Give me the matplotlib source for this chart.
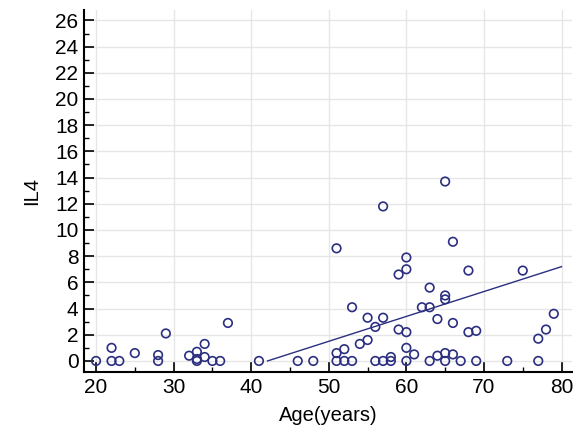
import numpy as np
import matplotlib
matplotlib.use("Agg")
import matplotlib.pyplot as plt
from matplotlib.ticker import MultipleLocator

plt.rcParams["font.family"] = ["Liberation Sans", "DejaVu Sans"]

# age (years) and IL4
age = [20, 22, 22, 23, 25, 28, 28, 29, 32, 33, 33, 33, 34, 34, 35, 36, 37,
       41, 46, 48, 51, 51, 51, 52, 52, 53, 53, 54, 55, 55, 56, 56, 57, 57, 57,
       58, 58, 59, 59, 60, 60, 60, 60, 60, 61, 62, 63, 63, 63, 64, 64,
       65, 65, 65, 65, 65, 66, 66, 66, 67, 68, 68, 69, 69, 73, 75, 77, 77, 78, 79]
il4 = [0, 1.0, 0, 0, 0.6, 0.45, 0, 2.1, 0.4, 0.7, 0.15, 0, 1.3, 0.3, 0, 0, 2.9,
       0, 0, 0, 8.6, 0.6, 0, 0.9, 0, 4.1, 0, 1.3, 3.3, 1.6, 2.6, 0, 11.8, 3.3, 0,
       0.3, 0, 6.6, 2.4, 7.9, 7.0, 2.2, 1.0, 0, 0.5, 4.1, 5.6, 4.1, 0, 3.2, 0.4,
       13.7, 5.0, 4.7, 0.6, 0, 9.1, 2.9, 0.5, 0, 6.9, 2.2, 2.3, 0, 0, 6.9, 1.7, 0, 2.4, 3.6]

# regression line
fit_slope = 0.19
fit_intercept = -8.0
fit_end = 80

navy = "#2b2f80"

fig = plt.figure(figsize=(5.73, 4.32), dpi=100)
ax = fig.add_axes([0.1466, 0.139, 0.851, 0.838])

ax.scatter(age, il4, s=38, facecolors="none", edgecolors=navy, linewidths=1.2, zorder=3)

x0 = -fit_intercept / fit_slope
fx = np.array([x0, fit_end])
ax.plot(fx, fit_slope * fx + fit_intercept, color=navy, lw=1.0, zorder=2)

ax.set_xlim(18.45, 81.3)
ax.set_ylim(-0.84, 26.8)
ax.xaxis.set_major_locator(MultipleLocator(10))
ax.xaxis.set_minor_locator(MultipleLocator(5))
ax.yaxis.set_major_locator(MultipleLocator(2))
ax.yaxis.set_minor_locator(MultipleLocator(1))

ax.grid(True, which="major", color="#e6e6e6", lw=1.0, zorder=0)
ax.set_axisbelow(True)
for s in ["top", "right"]:
    ax.spines[s].set_visible(False)
for s in ["left", "bottom"]:
    ax.spines[s].set_linewidth(1.5)
ax.tick_params(which="major", direction="in", length=7, width=1.2, labelsize=15, pad=4)
ax.tick_params(which="minor", direction="in", length=3.5, width=1.0)

ax.set_xlabel("Age(years)", fontsize=14.5, labelpad=7)
ax.set_ylabel("IL4", fontsize=14.5, labelpad=10)

fig.savefig("out.png", dpi=100)
